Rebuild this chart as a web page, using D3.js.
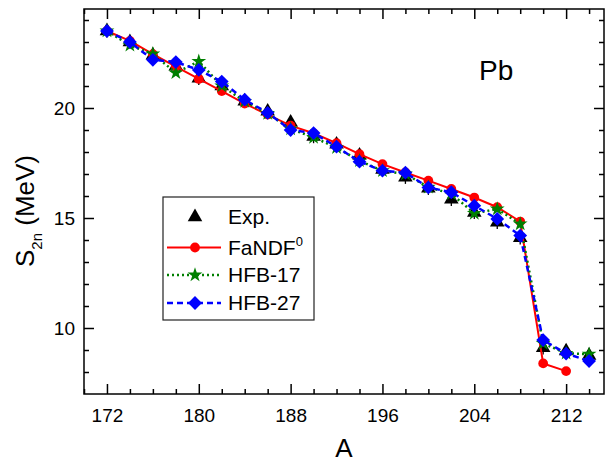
<!DOCTYPE html>
<html>
<head>
<meta charset="utf-8">
<script src="https://cdn.jsdelivr.net/npm/d3@7"></script>
<style>
	body { margin: 0; background: #fff; }
	svg { display: block; font-family: 'Liberation Sans', Arial, sans-serif; }
	.tick line { stroke: #000; stroke-width: 1.5; }
	.tick text { font-size: 19px; fill: #000; }
</style>
</head>
<body>
<div id="chart"></div>
<script>
// mass numbers (even A)
var massNumbers = [172,174,176,178,180,182,184,186,188,190,192,194,196,198,200,202,204,206,208,210,212,214]

// S2n in MeV
var expValues = [23.5,23.0,22.4,21.9,21.35,21.0,20.3,19.85,19.35,18.7,18.35,17.85,17.2,16.85,16.35,15.85,15.25,14.8,14.1,9.1,8.95,8.75]
var expErrors = [0.3,0.3,0.3,0.3,0.3,0.3,0.3,0.3,0.3,0.3,0.3,0.3,0.3,0.3,0.3,0.3,0.3,0.3,0.3,0.3,0.3,0.3]
var fandfValues = [23.5,23.05,22.45,21.88,21.32,20.77,20.2,19.7,19.2,18.85,18.4,17.9,17.45,17.07,16.7,16.32,15.93,15.49,14.84,8.39,8.04]
var hfb17Values = [23.5,22.85,22.46,21.6,22.12,21.0,20.3,19.75,19.05,18.66,18.2,17.6,17.15,17.0,16.4,16.1,15.21,15.41,14.73,9.3,8.85,8.81]
var hfb27Values = [23.5,23.0,22.19,22.09,21.73,21.2,20.38,19.78,19.0,18.86,18.24,17.56,17.15,17.06,16.39,16.17,15.56,14.96,14.2,9.45,8.84,8.5]

var xMajorTicks = [172,180,188,196,204,212]
var yMajorTicks = [10,15,20]
var legendLabels = ['Exp.','FaNDF','HFB-17','HFB-27']

var zip = function(vals) {
	return vals.map(function(v,i){ return {a: massNumbers[i], v: v} })
}

var width = 606, height = 462
var margin = {left: 84, right: 2, top: 9, bottom: 68}

var svg = d3.select('#chart').append('svg')
	.attr('width', width).attr('height', height)

var x = d3.scaleLinear().domain([170, 215.3]).range([margin.left, width - margin.right])
var y = d3.scaleLinear().domain([7, 24.5]).range([height - margin.bottom, margin.top])

var x0 = x.range()[0], x1 = x.range()[1], y0 = y.range()[0], y1 = y.range()[1]

var xMinor = d3.range(170, 216, 2).filter(function(d){ return xMajorTicks.indexOf(d) < 0 })
var yMinor = d3.range(8, 25, 1).filter(function(d){ return yMajorTicks.indexOf(d) < 0 })

// bottom
svg.append('g').attr('transform','translate(0,'+y0+')')
	.call(d3.axisBottom(x).tickValues(xMajorTicks).tickSize(-10).tickSizeOuter(0).tickPadding(15).tickFormat(d3.format('d')))
svg.append('g').attr('transform','translate(0,'+y0+')')
	.call(d3.axisBottom(x).tickValues(xMinor).tickSize(-5).tickSizeOuter(0).tickFormat(''))
// top
svg.append('g').attr('transform','translate(0,'+y1+')')
	.call(d3.axisTop(x).tickValues(xMajorTicks).tickSize(-10).tickSizeOuter(0).tickFormat(''))
svg.append('g').attr('transform','translate(0,'+y1+')')
	.call(d3.axisTop(x).tickValues(xMinor).tickSize(-5).tickSizeOuter(0).tickFormat(''))
// left
svg.append('g').attr('transform','translate('+x0+',0)')
	.call(d3.axisLeft(y).tickValues(yMajorTicks).tickSize(-10).tickSizeOuter(0).tickPadding(9))
svg.append('g').attr('transform','translate('+x0+',0)')
	.call(d3.axisLeft(y).tickValues(yMinor).tickSize(-5).tickSizeOuter(0).tickFormat(''))
// right
svg.append('g').attr('transform','translate('+x1+',0)')
	.call(d3.axisRight(y).tickValues(yMajorTicks).tickSize(-10).tickSizeOuter(0).tickFormat(''))
svg.append('g').attr('transform','translate('+x1+',0)')
	.call(d3.axisRight(y).tickValues(yMinor).tickSize(-5).tickSizeOuter(0).tickFormat(''))

svg.selectAll('.domain').remove()

svg.append('rect')
	.attr('x', x0).attr('y', y1)
	.attr('width', x1 - x0).attr('height', y0 - y1)
	.attr('fill','none').attr('stroke','#000').attr('stroke-width',1.5)

// axis titles
svg.append('text')
	.attr('x', (x0 + x1) / 2).attr('y', 457)
	.attr('text-anchor','middle').attr('font-size', 26)
	.text('A')

var yTitle = svg.append('text')
	.attr('transform','translate(34,211) rotate(-90)')
	.attr('text-anchor','middle').attr('font-size', 26)
yTitle.append('tspan').text('S')
yTitle.append('tspan').attr('font-size', 15).attr('dy', 8).text('2n')
yTitle.append('tspan').attr('dy', -8).text(' (MeV)')

svg.append('text')
	.attr('x', 479).attr('y', 80)
	.attr('font-size', 28)
	.text('Pb')

// symbols
var shapes = {
	tri: d3.symbol().type(d3.symbolTriangle).size(92),
	circ: d3.symbol().type(d3.symbolCircle).size(75),
	star: d3.symbol().type(d3.symbolStar).size(68),
	diam: d3.symbol().type(d3.symbolSquare).size(95)
}

var line = d3.line().x(function(d){ return x(d.a) }).y(function(d){ return y(d.v) })

var series = [
	{name: 'fandf', data: zip(fandfValues), color: '#ff0000', dash: null, width: 2, shape: 'circ', rot: 0},
	{name: 'hfb17', data: zip(hfb17Values), color: '#007f00', dash: '2,3', width: 2.5, shape: 'star', rot: 0},
	{name: 'hfb27', data: zip(hfb27Values), color: '#0000ff', dash: '6,4', width: 2.5, shape: 'diam', rot: 45}
]

// experiment: triangles with error bars
var expData = zip(expValues)
var expG = svg.append('g')
expG.selectAll('line').data(expData).enter().append('line')
	.attr('x1', function(d){ return x(d.a) }).attr('x2', function(d){ return x(d.a) })
	.attr('y1', function(d,i){ return y(d.v + expErrors[i]) })
	.attr('y2', function(d,i){ return y(d.v - expErrors[i]) })
	.attr('stroke','#000').attr('stroke-width',1.3)
expG.selectAll('path').data(expData).enter().append('path')
	.attr('d', shapes.tri())
	.attr('transform', function(d){ return 'translate('+x(d.a)+','+y(d.v)+')' })
	.attr('fill','#000')

series.forEach(function(s) {
	var g = svg.append('g').attr('class', s.name)
	g.append('path').datum(s.data)
		.attr('d', line)
		.attr('fill','none')
		.attr('stroke', s.color)
		.attr('stroke-width', s.width)
		.attr('stroke-dasharray', s.dash)
	g.selectAll('.mk').data(s.data).enter().append('path')
		.attr('class','mk')
		.attr('d', shapes[s.shape]())
		.attr('transform', function(d){ return 'translate('+x(d.a)+','+y(d.v)+') rotate('+s.rot+')' })
		.attr('fill', s.color)
})

// legend
var lg = svg.append('g')
lg.append('rect')
	.attr('x',163).attr('y',197).attr('width',151).attr('height',123)
	.attr('fill','#fff').attr('stroke','#222').attr('stroke-width',1.2)

var rows = [217, 247.5, 275, 303]
var legendItems = [{color:'#000', dash:null, shape:'tri', rot:0, noLine:true}].concat(series)
legendItems.forEach(function(s, i) {
	var ry = rows[i]
	if (!s.noLine) {
		lg.append('line')
			.attr('x1',167).attr('x2',221).attr('y1',ry).attr('y2',ry)
			.attr('stroke', s.color).attr('stroke-width', s.width)
			.attr('stroke-dasharray', s.dash)
	}
	lg.append('path')
		.attr('d', shapes[s.shape]())
		.attr('transform','translate(195,'+ry+') rotate('+s.rot+')')
		.attr('fill', s.color)
	var t = lg.append('text')
		.attr('x', 228).attr('y', ry + 7)
		.attr('font-size', 21)
	t.append('tspan').text(legendLabels[i])
	if (i == 1) {
		t.append('tspan').attr('font-size', 13).attr('dy', -9).text('0')
	}
})
</script>
</body>
</html>
